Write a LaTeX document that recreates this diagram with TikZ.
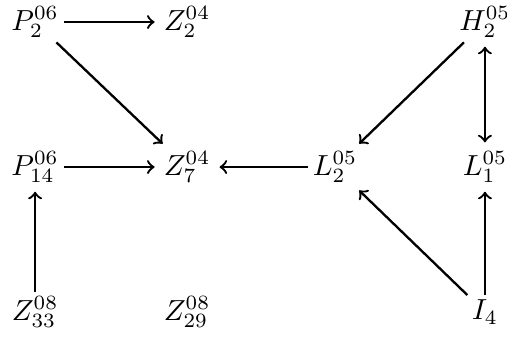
\documentclass[tikz,border=0pt]{standalone}
\usepackage{amsmath}
\usepackage{tikz}
\usetikzlibrary{positioning}
\tikzset{
    obj/.style={inner sep=1.5pt},
    map/.style={->, thick, shorten >=1.5pt},
}
\begin{document}
\begin{tikzpicture}[x=1pt, y=1pt]
    \tikzset{
      node distance=50pt and 52pt,
      on grid,
    }
    \useasboundingbox (0,0) rectangle (174.8,117.9);

    \node[obj] at (12.1,110.3) (p2) {$P_2^{06}$};
    \node[obj, right=52.4pt of p2] (z2) {$Z_2^{04}$};
    \node[obj, right=155.1pt of p2] (h2) {$H_2^{05}$};

    \node[obj, below=of p2] (p14) {$P_{14}^{06}$};
    \node[obj, below=of z2] (z7) {$Z_7^{04}$};
    \node[obj, right=51pt of z7] (l2) {$L_2^{05}$};
    \node[obj, below=of h2] (l1) {$L_1^{05}$};

    \node[obj, below=of p14] (z33) {$Z_{33}^{08}$};
    \node[obj, below=of z7] (z29) {$Z_{29}^{08}$};
    \node[obj, below=of l1] (i4) {$I_4$};

    \draw[map] (p2) -- (z2);
    \draw[map] (p2) -- (z7);
    \draw[map] (p14) -- (z7);
    \draw[map] (l2) -- (z7);
    \draw[map] (h2) -- (l2);
    \draw[map, <->, shorten <=1.5pt] (h2) -- (l1);
    \draw[map] (i4) -- (l2);
    \draw[map] (i4) -- (l1);
    \draw[map] (z33) -- (p14);
\end{tikzpicture}
\end{document}
